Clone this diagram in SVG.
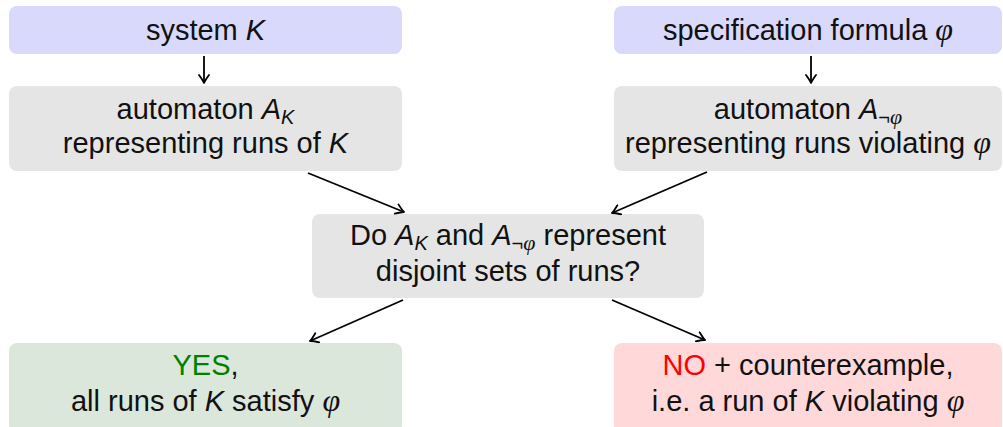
<svg xmlns="http://www.w3.org/2000/svg" width="1003" height="427" viewBox="0 0 1003 427">
  <defs>
    <style>
      .box { stroke: none; }
      .input { fill: #d9d9fb; }
      .step { fill: #e5e5e5; }
      .yes { fill: #dae7da; }
      .no { fill: #ffd9d9; }
      text { font-family: "Liberation Sans", Arial, sans-serif; font-size: 29px; fill: #111; text-anchor: middle; }
      .it { font-style: italic; }
      .phi { font-family: "Liberation Serif", "Times New Roman", serif; font-style: italic; font-size: 32px; }
      .sub { font-size: 20px; }
      .sub.phi { font-size: 22px; }
      .edge { stroke: #000; stroke-width: 1.8; fill: none; marker-end: url(#head); }
    </style>
    <marker id="head" viewBox="-9 -6 10 12" markerWidth="10" markerHeight="12" refX="0" refY="0" orient="auto" markerUnits="userSpaceOnUse">
      <path d="M -8,-5 Q -2.5,-1 0,0 Q -2.5,1 -8,5" stroke="#000" stroke-width="1.8" fill="none" stroke-linecap="round" stroke-linejoin="round"/>
    </marker>
  </defs>

  <g id="system">
    <rect class="box input" x="9" y="6" width="393" height="48" rx="8"/>
    <text x="205.5" y="40">system <tspan class="it">K</tspan></text>
  </g>

  <g id="spec">
    <rect class="box input" x="614" y="6" width="388" height="48" rx="8"/>
    <text x="808" y="40">specification formula <tspan class="phi">φ</tspan></text>
  </g>

  <g id="automaton-k">
    <rect class="box step" x="9" y="86" width="393" height="85" rx="8"/>
    <text x="205.5" y="119">automaton <tspan class="it">A</tspan><tspan class="it sub" dy="5">K</tspan></text>
    <text x="205.5" y="153">representing runs of <tspan class="it">K</tspan></text>
  </g>

  <g id="automaton-neg-phi">
    <rect class="box step" x="614" y="86" width="388" height="85" rx="8"/>
    <text x="808" y="119">automaton <tspan class="it">A</tspan><tspan class="sub" dy="5">¬</tspan><tspan class="sub phi">φ</tspan></text>
    <text x="808" y="153">representing runs violating <tspan class="phi">φ</tspan></text>
  </g>

  <g id="check">
    <rect class="box step" x="312" y="214" width="392" height="84" rx="8"/>
    <text x="508" y="245">Do <tspan class="it">A</tspan><tspan class="it sub" dy="5">K</tspan><tspan dy="-5"> and </tspan><tspan class="it">A</tspan><tspan class="sub" dy="5">¬</tspan><tspan class="sub phi">φ</tspan><tspan dy="-5"> represent</tspan></text>
    <text x="508" y="281">disjoint sets of runs?</text>
  </g>

  <g id="result-yes">
    <rect class="box yes" x="9" y="343" width="393" height="90" rx="8"/>
    <text x="205.5" y="375"><tspan fill="#008000">YES</tspan>,</text>
    <text x="205.5" y="411">all runs of <tspan class="it">K</tspan> satisfy <tspan class="phi">φ</tspan></text>
  </g>

  <g id="result-no">
    <rect class="box no" x="614" y="343" width="388" height="90" rx="8"/>
    <text x="808" y="375"><tspan fill="#ff0000">NO</tspan> + counterexample,</text>
    <text x="808" y="411">i.e. a run of <tspan class="it">K</tspan> violating <tspan class="phi">φ</tspan></text>
  </g>

  <g id="connectors">
    <line class="edge" x1="204" y1="56" x2="204" y2="83"/>
    <line class="edge" x1="811" y1="56" x2="811" y2="83"/>
    <line class="edge" x1="308" y1="173" x2="404" y2="212"/>
    <line class="edge" x1="707" y1="172" x2="612" y2="213"/>
    <line class="edge" x1="403" y1="300" x2="310" y2="341"/>
    <line class="edge" x1="612" y1="300" x2="705" y2="340"/>
  </g>
</svg>
